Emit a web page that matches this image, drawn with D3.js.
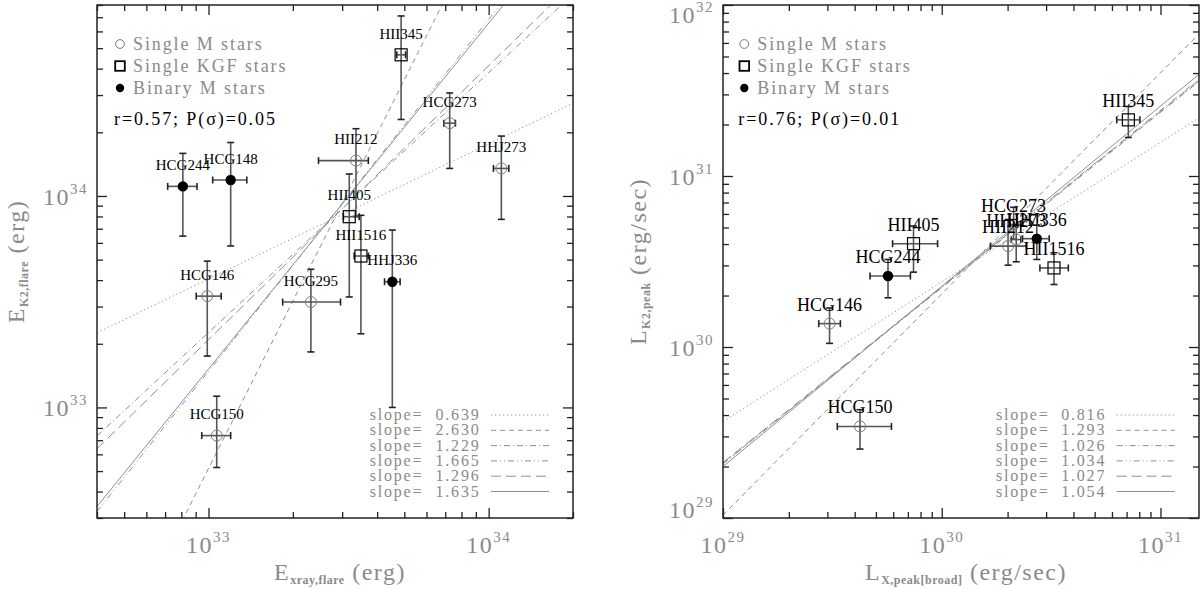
<!DOCTYPE html>
<html>
<head>
<meta charset="utf-8">
<script src="https://cdn.jsdelivr.net/npm/d3@7"></script>
<style>
body{margin:0;background:#fff}
text{font-family:"Liberation Serif","Times New Roman",serif}
</style>
</head>
<body>
<svg id="chart" width="1200" height="589"></svg>
<script>
// ---- left panel: flare energies (erg)
var eNames = ['HII345','HCG273','HHJ273','HII212','HII405','HII1516','HHJ336','HCG244','HCG148','HCG146','HCG295','HCG150']
var eKind  = ['K','M','M','M','K','K','B','B','B','M','M','M']
var eXray   = [4.87e33, 7.26e33, 1.11e34, 3.36e33, 3.18e33, 3.50e33, 4.53e33, 8.10e32, 1.20e33, 9.90e32, 2.32e33, 1.07e33]
var eXrayLo = [4.70e33, 6.92e33, 1.04e34, 2.47e33, 3.03e33, 3.31e33, 4.25e33, 7.15e32, 1.035e33, 9.04e32, 1.84e33, 9.46e32]
var eXrayHi = [5.05e33, 7.61e33, 1.18e34, 3.72e33, 3.45e33, 3.72e33, 4.83e33, 9.10e32, 1.37e33, 1.11e33, 2.96e33, 1.20e33]
var eK2     = [4.65e34, 2.21e34, 1.35e34, 1.47e34, 7.98e33, 5.20e33, 3.93e33, 1.11e34, 1.19e34, 3.36e33, 3.15e33, 7.36e32]
var eK2Lo   = [2.30e34, 1.35e34, 7.75e33, 8.00e33, 3.33e33, 2.23e33, 1.00e33, 6.46e33, 5.80e33, 1.75e33, 1.83e33, 5.20e32]
var eK2Hi   = [7.10e34, 3.07e34, 1.92e34, 2.08e34, 1.27e34, 8.10e33, 6.90e33, 1.59e34, 1.79e34, 4.92e33, 4.50e33, 1.13e33]
var eSlopes = [0.639, 2.630, 1.229, 1.665, 1.296, 1.635]
var eFitAt  = [4.05e33, 5.14e32, 2.26e33, 1.48e33, 2.09e33, 1.52e33]   // E_K2 of each fit at E_xray = 1e33

// ---- right panel: peak luminosities (erg/sec)
var lNames = ['HII345','HCG273','HHJ273','HII212','HHJ336','HII1516','HII405','HCG244','HCG146','HCG150']
var lKind  = ['K','M','M','M','B','K','K','B','M','M']
var lX     = [7.13e30, 2.13e30, 2.19e30, 2.01e30, 2.72e30, 3.26e30, 7.43e29, 5.68e29, 3.07e29, 4.23e29]
var lXLo   = [6.31e30, 2.05e30, 2.08e30, 1.67e30, 2.34e30, 2.81e30, 5.96e29, 4.70e29, 2.74e29, 3.33e29]
var lXHi   = [8.05e30, 2.22e30, 2.30e30, 2.44e30, 3.10e30, 3.79e30, 9.57e29, 7.19e29, 3.44e29, 5.89e29]
var lK2    = [2.13e31, 5.20e30, 4.25e30, 3.89e30, 4.30e30, 2.90e30, 4.02e30, 2.60e30, 1.37e30, 3.43e29]
var lK2Lo  = [1.68e31, 4.27e30, 3.15e30, 3.01e30, 3.25e30, 2.32e30, 2.74e30, 1.94e30, 1.05e30, 2.53e29]
var lK2Hi  = [2.55e31, 6.56e30, 5.20e30, 5.57e30, 5.16e30, 3.56e30, 5.10e30, 3.25e30, 1.69e30, 4.30e29]
var lSlopes = [0.816, 1.293, 1.026, 1.034, 1.027, 1.054]
var lFitAt  = [3.67e29, 1.04e29, 2.09e29, 2.07e29, 2.11e29, 2.00e29]  // L_K2 of each fit at L_X = 1e29

var legendNames = ['Single M stars', 'Single KGF stars', 'Binary M stars']
var legendKinds = ['M', 'K', 'B']

var dashes = ['1.2,2.8', '5,4', '6,3,1,3', '6,3,1,3,1,3', '10,5', null]
var gray = '#8a8a8a'

var svg = d3.select('#chart')

var panels = [
  {id: 'l', x0: 97, x1: 573, y0: 5, y1: 518, xd: [4e32, 2e34], yd: [3e32, 8e34],
   names: eNames, kind: eKind, xv: eXray, xlo: eXrayLo, xhi: eXrayHi, yv: eK2, ylo: eK2Lo, yhi: eK2Hi,
   slopes: eSlopes, fitAt: eFitAt, fitX: 1e33,
   corr: 'r=0.57; P(\u03c3)=0.05', labelSize: 15, labelOff: 16.3,
   legX: 120, slopeX: 369.7, slopeValX: 435.5, slopeLine: [491, 549],
   xTitle: [['E', 0], ['xray,flare', 1], [' (erg)', 0]], yTitle: [['E', 0], ['K2,flare', 1], [' (erg)', 0]],
   xTitleX: 340, yTitleX: 24},
  {id: 'r', x0: 723, x1: 1199, y0: 5, y1: 518, xd: [1e29, 1.5e31], yd: [1e29, 1e32],
   names: lNames, kind: lKind, xv: lX, xlo: lXLo, xhi: lXHi, yv: lK2, ylo: lK2Lo, yhi: lK2Hi,
   slopes: lSlopes, fitAt: lFitAt, fitX: 1e29,
   corr: 'r=0.76; P(\u03c3)=0.01', labelSize: 18, labelOff: 13,
   legX: 744.3, slopeX: 996, slopeValX: 1061.2, slopeLine: [1116.6, 1174.8],
   xTitle: [['L', 0], ['X,peak[broad]', 1], [' (erg/sec)', 0]], yTitle: [['L', 0], ['K2,peak', 1], [' (erg/sec)', 0]],
   xTitleX: 966, yTitleX: 646}
]

panels.forEach(drawPanel)

function drawPanel(p){
  var g = svg.append('g')
  var x = d3.scaleLog().domain(p.xd).range([p.x0, p.x1])
  var y = d3.scaleLog().domain(p.yd).range([p.y1, p.y0])

  g.append('clipPath').attr('id', 'clip-' + p.id)
    .append('rect').attr('x', p.x0).attr('y', p.y0)
    .attr('width', p.x1 - p.x0).attr('height', p.y1 - p.y0)

  // fitted power laws
  var line = d3.line().x(function(d){ return x(d[0]) }).y(function(d){ return y(d[1]) })
  var fits = g.append('g').attr('clip-path', 'url(#clip-' + p.id + ')')
  p.slopes.forEach(function(s, i){
    var pts = [p.xd[0], p.xd[1]].map(function(v){ return [v, p.fitAt[i] * Math.pow(v / p.fitX, s)] })
    fits.append('path').attr('d', line(pts))
      .attr('fill', 'none').attr('stroke', '#8f8f8f').attr('stroke-width', 1)
      .attr('stroke-dasharray', dashes[i])
  })

  // error bars
  var eb = g.append('g').attr('stroke-width', 1.6)
  var cap = 3.5
  p.names.forEach(function(n, i){
    var cx = x(p.xv[i]), cy = y(p.yv[i])
    var ya = y(p.ylo[i]), yb = y(p.yhi[i]), xa = x(p.xlo[i]), xb = x(p.xhi[i])
    eb.append('line').attr('x1', cx).attr('x2', cx).attr('y1', ya).attr('y2', yb).attr('stroke', '#555')
    eb.append('line').attr('x1', xa).attr('x2', xb).attr('y1', cy).attr('y2', cy).attr('stroke', '#555')
    eb.append('line').attr('x1', cx - cap).attr('x2', cx + cap).attr('y1', ya).attr('y2', ya).attr('stroke', '#222')
    eb.append('line').attr('x1', cx - cap).attr('x2', cx + cap).attr('y1', yb).attr('y2', yb).attr('stroke', '#222')
    eb.append('line').attr('x1', xa).attr('x2', xa).attr('y1', cy - cap).attr('y2', cy + cap).attr('stroke', '#222')
    eb.append('line').attr('x1', xb).attr('x2', xb).attr('y1', cy - cap).attr('y2', cy + cap).attr('stroke', '#222')
  })

  // symbols + names
  p.names.forEach(function(n, i){
    var cx = x(p.xv[i]), cy = y(p.yv[i])
    symbol(g, p.kind[i], cx, cy, 1)
    g.append('text').attr('x', cx).attr('y', cy - p.labelOff)
      .attr('text-anchor', 'middle').attr('font-size', p.labelSize).attr('fill', '#000')
      .text(n)
  })

  // legend of symbols
  legendNames.forEach(function(n, i){
    var ly = 50 + i * 22
    symbol(g, legendKinds[i], p.legX, ly - 6, 0.8)
    g.append('text').attr('x', p.legX + 13).attr('y', ly)
      .attr('font-size', 18).attr('letter-spacing', 1.9).attr('fill', gray).text(n)
  })
  g.append('text').attr('x', p.legX - 6).attr('y', 125)
    .attr('font-size', 18).attr('letter-spacing', 1.9).attr('fill', '#000').text(p.corr)

  // legend of fits
  p.slopes.forEach(function(s, i){
    var ly = 420 + i * 15.3
    g.append('text').attr('x', p.slopeX).attr('y', ly)
      .attr('font-size', 16).attr('letter-spacing', 1.8).attr('fill', gray).text('slope=')
    g.append('text').attr('x', p.slopeValX).attr('y', ly)
      .attr('font-size', 16).attr('letter-spacing', 1.8).attr('fill', gray).text(d3.format('.3f')(s))
    g.append('line').attr('x1', p.slopeLine[0]).attr('x2', p.slopeLine[1])
      .attr('y1', ly - 5).attr('y2', ly - 5)
      .attr('stroke', '#8f8f8f').attr('stroke-width', 1).attr('stroke-dasharray', dashes[i])
  })

  // frame and ticks
  g.append('rect').attr('x', p.x0).attr('y', p.y0)
    .attr('width', p.x1 - p.x0).attr('height', p.y1 - p.y0)
    .attr('fill', 'none').attr('stroke', '#222').attr('stroke-width', 1.5)

  var xt = logTicks(p.xd), yt = logTicks(p.yd)
  axisSet(g, d3.axisBottom(x), 'translate(0,' + p.y1 + ')', xt)
  axisSet(g, d3.axisTop(x), 'translate(0,' + p.y0 + ')', xt)
  axisSet(g, d3.axisLeft(y), 'translate(' + p.x0 + ',0)', yt)
  axisSet(g, d3.axisRight(y), 'translate(' + p.x1 + ',0)', yt)

  // tick labels 10^n
  xt.major.forEach(function(v){
    var t = g.append('text').attr('x', x(v)).attr('y', 553)
      .attr('text-anchor', 'middle').attr('fill', gray).attr('font-size', 24).attr('letter-spacing', 1.5)
    pow10(t, v)
  })
  yt.major.forEach(function(v){
    var by = Math.max(p.y0 + 17.5, Math.min(p.y1, y(v) + 9))
    var t = g.append('text').attr('x', p.x0 - 9).attr('y', by)
      .attr('text-anchor', 'end').attr('fill', gray).attr('font-size', 24).attr('letter-spacing', 1.5)
    pow10(t, v)
  })

  // axis titles
  richText(g.append('text').attr('x', p.xTitleX).attr('y', 580).attr('text-anchor', 'middle'), p.xTitle)
  richText(g.append('text').attr('text-anchor', 'middle')
    .attr('transform', 'translate(' + p.yTitleX + ',' + (p.y0 + p.y1) / 2 + ') rotate(-90)'), p.yTitle)
}

function symbol(g, k, cx, cy, s){
  if (k == 'M') g.append('circle').attr('cx', cx).attr('cy', cy).attr('r', 5.5 * s)
    .attr('fill', 'none').attr('stroke', '#7a7a7a').attr('stroke-width', 1)
  if (k == 'B') g.append('circle').attr('cx', cx).attr('cy', cy).attr('r', 5.2 * s).attr('fill', '#000')
  if (k == 'K') g.append('rect').attr('x', cx - 6 * s).attr('y', cy - 6 * s)
    .attr('width', 12 * s).attr('height', 12 * s)
    .attr('fill', 'none').attr('stroke', '#000').attr('stroke-width', s < 1 ? 1.8 : 1.2)
}

function logTicks(d){
  var major = [], minor = []
  for (var k = Math.floor(Math.log10(d[0])); k <= Math.ceil(Math.log10(d[1])); k++){
    for (var m = 1; m < 10; m++){
      var v = m * Math.pow(10, k)
      if (v < d[0] * 0.999 || v > d[1] * 1.001) continue
      if (m == 1) major.push(v); else minor.push(v)
    }
  }
  return {major: major, minor: minor}
}

function axisSet(g, axis, tr, t){
  [[t.major, 10], [t.minor, 6]].forEach(function(a){
    var ax = g.append('g').attr('transform', tr)
      .call(axis.tickValues(a[0]).tickSize(-a[1]).tickSizeOuter(0).tickFormat(''))
    ax.select('.domain').remove()
    ax.selectAll('line').attr('stroke', '#222').attr('stroke-width', 1.3)
  })
}

function pow10(t, v){
  t.append('tspan').text('10')
  t.append('tspan').attr('font-size', 15).attr('dy', -11).text(Math.round(Math.log10(v)))
}

function richText(t, parts){
  t.attr('fill', gray).attr('font-size', 24).attr('letter-spacing', 1.5)
  parts.forEach(function(pt, i){
    var prev = i > 0 ? parts[i - 1][1] : 0
    var dy = pt[1] ? 4 : (prev ? -4 : 0)
    t.append('tspan').attr('font-size', pt[1] ? 12 : 24).attr('dy', dy)
      .attr('font-weight', pt[1] ? 'bold' : null).attr('letter-spacing', pt[1] ? 0.5 : 1.5)
      .text(pt[0])
  })
}
</script>
</body>
</html>
